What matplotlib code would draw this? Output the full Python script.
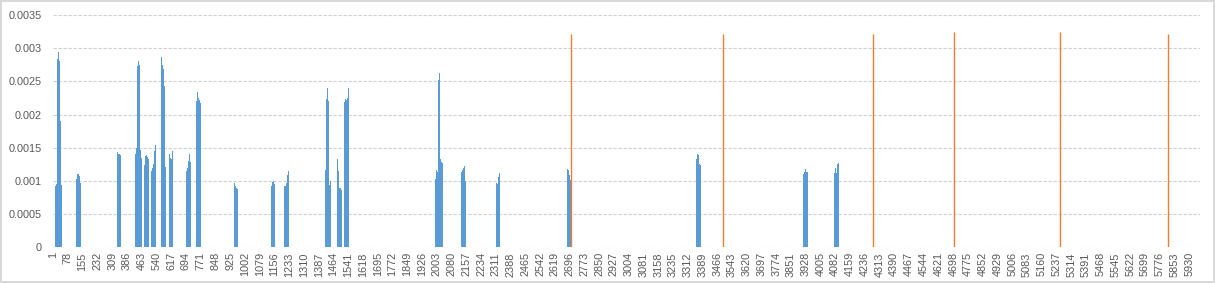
import matplotlib
matplotlib.use("Agg")
import matplotlib.pyplot as plt

# number of categories on the axis (row numbers 1..N)
n_cats = 5985
step = 5  # categories per visible bar step

# blue series: start category of each cluster and its heights
cluster_start = [11, 120, 334, 428, 475, 512, 564, 604, 693, 747, 945,
                 1138, 1206, 1420, 1482, 1519, 1994, 2130, 2312, 2681,
                 3356, 3914, 4076]
cluster_vals = [
    [0.00093, 0.00095, 0.00283, 0.00295, 0.00281, 0.0019, 0.00094],
    [0.00103, 0.0011, 0.0011, 0.00108, 0.00097],
    [0.00144, 0.0014, 0.0014, 0.00139],
    [0.0014, 0.0015, 0.00273, 0.0028, 0.00275, 0.00147, 0.00135],
    [0.00124, 0.00137, 0.00139, 0.00136, 0.00133],
    [0.00115, 0.0012, 0.00126, 0.00145, 0.00154],
    [0.00287, 0.00275, 0.00268, 0.00243, 0.00121],
    [0.0014, 0.00135, 0.00133, 0.0014, 0.00145],
    [0.00115, 0.0012, 0.0013, 0.0014, 0.00129],
    [0.0022, 0.00234, 0.00225, 0.00222, 0.00217],
    [0.00097, 0.00093, 0.0009, 0.00088],
    [0.00092, 0.00098, 0.001, 0.00096],
    [0.00093, 0.00092, 0.00097, 0.00109, 0.00115],
    [0.00116, 0.00224, 0.0024, 0.00221, 0.00094, 0.001],
    [0.00133, 0.00115, 0.00089, 0.00089, 0.00087],
    [0.00219, 0.00224, 0.00222, 0.00225, 0.0024],
    [0.00103, 0.00116, 0.00113, 0.00252, 0.00262, 0.00133, 0.00129, 0.00127],
    [0.00113, 0.00117, 0.0012, 0.00122, 0.001],
    [0.00097, 0.00095, 0.00106, 0.00112],
    [0.00118, 0.00116, 0.00109, 0.00101],
    [0.00133, 0.0014, 0.00139, 0.00126, 0.00124],
    [0.0011, 0.00114, 0.00118, 0.00113, 0.00114],
    [0.00112, 0.00119, 0.00112, 0.00126, 0.00127],
]

# orange series: single spikes
spike_cats = [2702, 3495, 4278, 4702, 5255, 5819]
spike_vals = [0.00321, 0.00321, 0.00321, 0.00324, 0.00324, 0.00321]

x_labels = list(range(1, 5931, 77))
y_ticks = [0, 0.0005, 0.001, 0.0015, 0.002, 0.0025, 0.003, 0.0035]
y_labels = ["0", "0.0005", "0.001", "0.0015", "0.002", "0.0025", "0.003", "0.0035"]

plt.rcParams['font.family'] = ['Liberation Sans', 'DejaVu Sans']

fig = plt.figure(figsize=(12.15, 2.83), dpi=100)
fig.patch.set_edgecolor('#D9D9D9')
fig.patch.set_linewidth(1.5)
ax = fig.add_axes([53 / 1215, 1 - 247.3 / 283, 1147 / 1215, 232.3 / 283])

# bars
for start, vals in zip(cluster_start, cluster_vals):
    xs = [start + i * step for i in range(len(vals))]
    ax.bar(xs, vals, width=step, align='edge', color='#5B9BD5', linewidth=0, zorder=2)

# spikes
ax.vlines(spike_cats, 0, spike_vals, color='#ED7D31', linewidth=1.0, zorder=3)

ax.set_xlim(0.5, n_cats + 0.5)
ax.set_ylim(0, 0.0035)

ax.set_yticks(y_ticks)
ax.set_yticklabels(y_labels)
ax.set_xticks(x_labels)
ax.set_xticklabels([str(v) for v in x_labels], rotation=90)

ax.grid(axis='y', color='#D0D0D0', linewidth=0.8, linestyle=(0, (3, 1.5)), zorder=0)
ax.grid(axis='x', visible=False)
for s in ax.spines.values():
    s.set_visible(False)
ax.tick_params(axis='both', length=0, colors='#595959', labelsize=7.8)
ax.tick_params(axis='y', pad=8)
ax.tick_params(axis='x', pad=3.5)

fig.savefig("out.png", dpi=100, edgecolor=fig.get_edgecolor())
